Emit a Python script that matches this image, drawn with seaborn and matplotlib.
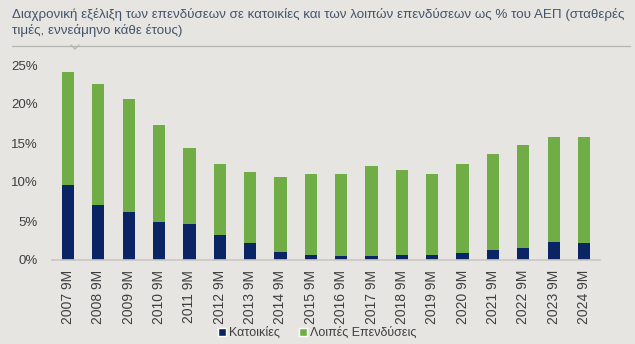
import matplotlib
matplotlib.use("Agg")
import matplotlib.pyplot as plt
import seaborn as sns
import pandas as pd
from matplotlib.lines import Line2D
from matplotlib.patches import Patch
from matplotlib.ticker import FuncFormatter

categories = ["2007 9M", "2008 9M", "2009 9M", "2010 9M", "2011 9M", "2012 9M",
              "2013 9M", "2014 9M", "2015 9M", "2016 9M", "2017 9M", "2018 9M",
              "2019 9M", "2020 9M", "2021 9M", "2022 9M", "2023 9M", "2024 9M"]
housing = [9.6, 7.1, 6.2, 4.9, 4.65, 3.25, 2.2, 1.0, 0.7, 0.5, 0.5, 0.65,
           0.65, 0.95, 1.25, 1.6, 2.3, 2.15]
other = [14.5, 15.5, 14.4, 12.4, 9.65, 9.05, 9.1, 9.7, 10.3, 10.5, 11.5, 10.85,
         10.35, 11.4, 12.35, 13.2, 13.5, 13.65]
series_names = ["Κατοικίες", "Λοιπές Επενδύσεις"]
title = ("Διαχρονική εξέλιξη των επενδύσεων σε κατοικίες και των λοιπών επενδύσεων ως % του ΑΕΠ (σταθερές\n"
         "τιμές, εννεάμηνο κάθε έτους)")

bg = "#e6e5e1"
navy = "#0b2463"
green = "#70ad47"
text_col = "#3f3f3f"

sns.set_theme(style="white")
plt.rcParams["font.family"] = ["Liberation Sans", "DejaVu Sans"]

df = pd.DataFrame({"cat": categories, "housing": housing, "other": other})
df["total"] = df["housing"] + df["other"]

fig = plt.figure(figsize=(6.35, 3.44), dpi=100, facecolor=bg)
ax = fig.add_axes([52/635, 1-260/344, 548/635, 195/344])
ax.set_facecolor(bg)

sns.barplot(data=df, x="cat", y="total", color=green, width=0.4, ax=ax,
            saturation=1, linewidth=0)
sns.barplot(data=df, x="cat", y="housing", color=navy, width=0.4, ax=ax,
            saturation=1, linewidth=0)

ax.set_ylim(0, 25)
ax.set_xlim(-0.53, len(categories) - 0.47)
ax.set_yticks([0, 5, 10, 15, 20, 25])
ax.yaxis.set_major_formatter(FuncFormatter(lambda v, p: f"{v:.0f}%"))
ax.set_xlabel("")
ax.set_ylabel("")
for s in ["top", "right", "left"]:
    ax.spines[s].set_visible(False)
ax.spines["bottom"].set_color("#c8c8c4")
ax.spines["bottom"].set_linewidth(1.2)
ax.tick_params(axis="x", rotation=90, labelsize=10, colors=text_col, length=0, pad=7)
ax.tick_params(axis="y", labelsize=9.5, colors=text_col, length=0, pad=10)

fig.text(12/635, 1-8/344, title, ha="left", va="top", fontsize=9.6,
         color="#44546a", linespacing=1.3)
fig.add_artist(Line2D([12/635, 630/635], [1-46/344, 1-46/344], color="#b4b4b0",
                      lw=0.9, transform=fig.transFigure))
fig.add_artist(Line2D([71/635, 75/635, 79/635], [1-45/344, 1-49/344, 1-45/344],
                      color="#b4b4b0", lw=0.9, transform=fig.transFigure))

handles = [Patch(facecolor=navy, label=series_names[0]),
           Patch(facecolor=green, label=series_names[1])]
fig.legend(handles=handles, loc="center", bbox_to_anchor=(0.5, 1-333/344), ncol=2,
           frameon=False, fontsize=9, handlelength=0.6, handleheight=0.6,
           handletextpad=0.3, columnspacing=1.5, labelcolor=text_col)

fig.savefig("out.png", dpi=100, facecolor=bg)
